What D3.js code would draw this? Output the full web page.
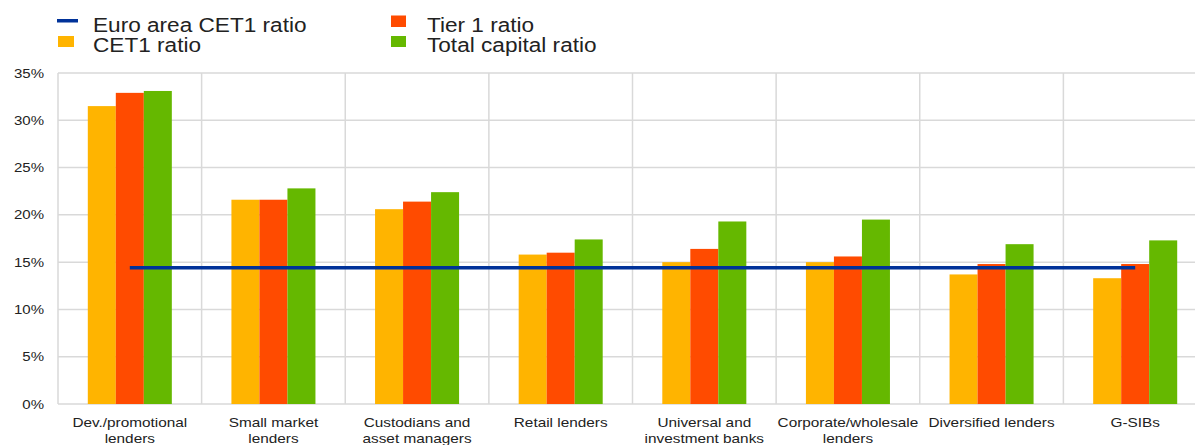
<!DOCTYPE html>
<html>
<head>
<meta charset="utf-8">
<script src="https://cdn.jsdelivr.net/npm/d3@7/dist/d3.min.js"></script>
<style>
  html, body { margin: 0; padding: 0; background: #fff; }
  svg { display: block; }
  text { font-family: "Liberation Sans", Arial, sans-serif; fill: #222; }
</style>
</head>
<body>
<svg id="chart" width="1195" height="445"></svg>
<script>
// ---- data ----
const categories = [
  ["Dev./promotional", "lenders"],
  ["Small market", "lenders"],
  ["Custodians and", "asset managers"],
  ["Retail lenders"],
  ["Universal and", "investment banks"],
  ["Corporate/wholesale", "lenders"],
  ["Diversified lenders"],
  ["G-SIBs"]
];
const seriesNames = ["CET1 ratio", "Tier 1 ratio", "Total capital ratio"];
const cet1Values  = [31.5, 21.6, 20.6, 15.8, 15.0, 15.0, 13.7, 13.3];
const tier1Values = [32.9, 21.6, 21.4, 16.0, 16.4, 15.6, 14.8, 14.8];
const totalValues = [33.1, 22.8, 22.4, 17.4, 19.3, 19.5, 16.9, 17.3];
const euroAreaName = "Euro area CET1 ratio";
const euroAreaValues = [14.4, 14.4, 14.4, 14.4, 14.4, 14.4, 14.4, 14.4];
const yTicks = [0, 5, 10, 15, 20, 25, 30, 35];

// ---- styles ----
const colors = ["#FFB400", "#FF4B00", "#65B800"];
const lineColor = "#003299";
const gridColor = "#d9d9d9";

const svg = d3.select("#chart");
const margin = { left: 58, top: 73, right: 1207, bottom: 404 };

const keys = categories.map((c, i) => i);
const x0 = d3.scaleBand().domain(keys).range([margin.left, margin.right])
  .paddingInner(0.415).paddingOuter(0.2075);
const x1 = d3.scaleBand().domain([0, 1, 2]).range([0, x0.bandwidth()]);
const y = d3.scaleLinear().domain([0, 35]).range([margin.bottom, margin.top]);
const step = x0.step();

function stretch(sel, f) {
  sel.each(function () {
    const w = this.getComputedTextLength();
    this.setAttribute("textLength", w * f);
    this.setAttribute("lengthAdjust", "spacingAndGlyphs");
  });
}

// grid horizontal
svg.append("g").selectAll("line").data(yTicks).join("line")
  .attr("x1", margin.left).attr("x2", 1195)
  .attr("y1", d => y(d)).attr("y2", d => y(d))
  .attr("stroke", gridColor).attr("stroke-width", 1.5);

// grid vertical (category boundaries)
const bounds = d3.range(categories.length + 1).map(i => margin.left + i * step);
svg.append("g").selectAll("line").data(bounds).join("line")
  .attr("x1", d => d).attr("x2", d => d)
  .attr("y1", y(35)).attr("y2", y(0))
  .attr("stroke", gridColor).attr("stroke-width", 1.5);

// y tick labels
const yl = svg.append("g").selectAll("text").data(yTicks).join("text")
  .attr("x", 44).attr("y", d => y(d) + 4.5)
  .attr("text-anchor", "end").attr("font-size", 12.5)
  .text(d => d + "%");
stretch(yl, 1.2);

// bars
const allSeries = [cet1Values, tier1Values, totalValues];
allSeries.forEach((vals, si) => {
  svg.append("g").selectAll("rect").data(vals).join("rect")
    .attr("x", (d, i) => x0(i) + x1(si))
    .attr("width", x1.bandwidth())
    .attr("y", d => y(d))
    .attr("height", d => y(0) - y(d))
    .attr("fill", colors[si]);
});

// euro area line
const line = d3.line()
  .x((d, i) => x0(i) + x0.bandwidth() / 2)
  .y(d => y(d));
svg.append("path").datum(euroAreaValues)
  .attr("d", line).attr("fill", "none")
  .attr("stroke", lineColor).attr("stroke-width", 3.5);

// x labels
categories.forEach((lines, i) => {
  const cx = x0(i) + x0.bandwidth() / 2;
  lines.forEach((t, li) => {
    const tx = svg.append("text")
      .attr("x", cx).attr("y", 426.5 + li * 16)
      .attr("text-anchor", "middle").attr("font-size", 13)
      .text(t);
    stretch(tx, 1.18);
  });
});

// legend
const lg = svg.append("g");
lg.append("rect").attr("x", 57).attr("y", 19).attr("width", 21).attr("height", 3.5).attr("fill", lineColor);
lg.append("rect").attr("x", 58).attr("y", 36).attr("width", 16).attr("height", 11).attr("fill", colors[0]);
lg.append("rect").attr("x", 391).attr("y", 15.5).attr("width", 15).attr("height", 11.5).attr("fill", colors[1]);
lg.append("rect").attr("x", 391).attr("y", 36).attr("width", 15).attr("height", 11).attr("fill", colors[2]);
const legendTexts = [
  { t: euroAreaName, x: 93, y: 31.7 },
  { t: seriesNames[0], x: 93, y: 52.3 },
  { t: seriesNames[1], x: 427, y: 31.7 },
  { t: seriesNames[2], x: 427, y: 52.3 }
];
const lt = lg.selectAll("text").data(legendTexts).join("text")
  .attr("x", d => d.x).attr("y", d => d.y)
  .attr("font-size", 20).text(d => d.t);
stretch(lt, 1.13);
</script>
</body>
</html>
